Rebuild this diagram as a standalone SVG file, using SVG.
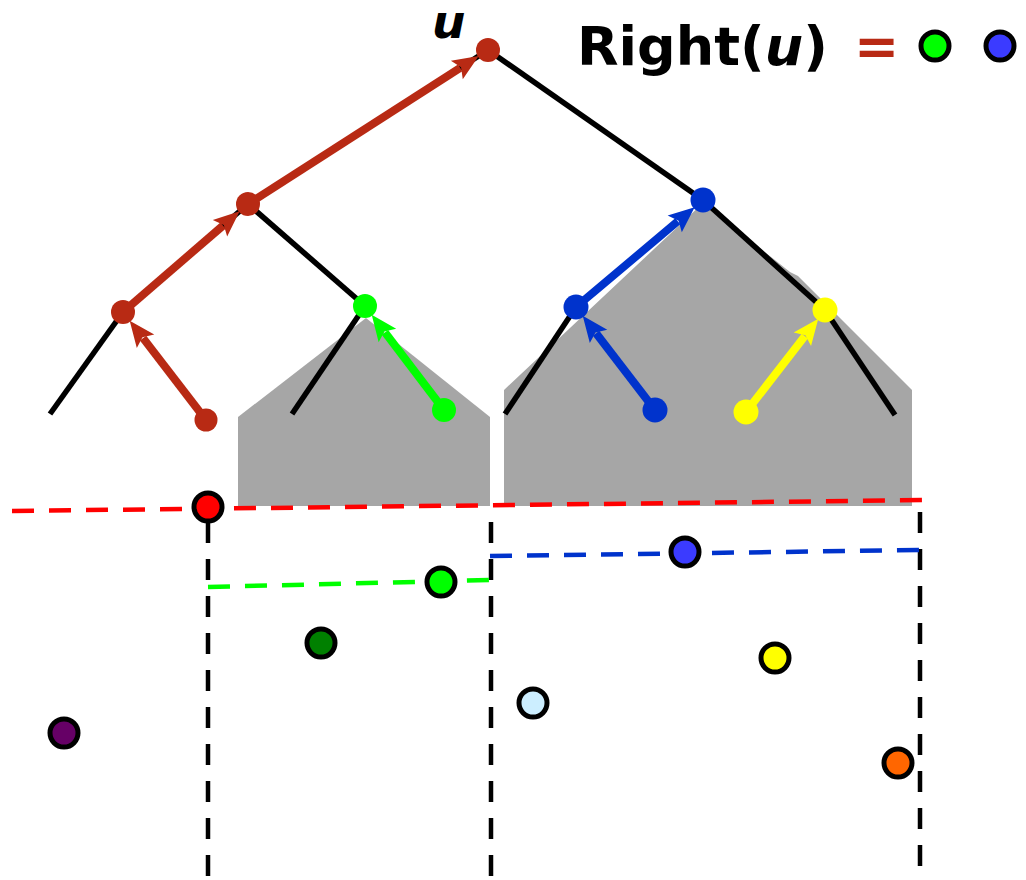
<svg xmlns="http://www.w3.org/2000/svg" width="1026" height="880" viewBox="0 0 1026 880">
<style>
.edge{stroke:#000;stroke-width:5.5;fill:none}
.arr{stroke-width:8;fill:none}
.dot{stroke:none}
.pt{stroke:#000;stroke-width:5}
.vd{stroke:#000;stroke-width:4.5;stroke-dasharray:21 16;fill:none}
.hd{stroke-width:4.5;stroke-dasharray:22 15;fill:none}
.t{font-family:"DejaVu Sans",sans-serif;font-weight:bold}
</style>
<defs>
<marker id="mR" markerUnits="userSpaceOnUse" markerWidth="30" markerHeight="30" refX="0" refY="0" orient="auto" overflow="visible"><path d="M-4,-11 L22,0 L-4,11 L1,0 z" fill="#b82a14"/></marker>
<marker id="mG" markerUnits="userSpaceOnUse" markerWidth="30" markerHeight="30" refX="0" refY="0" orient="auto" overflow="visible"><path d="M-4,-11 L22,0 L-4,11 L1,0 z" fill="#00ff00"/></marker>
<marker id="mB" markerUnits="userSpaceOnUse" markerWidth="30" markerHeight="30" refX="0" refY="0" orient="auto" overflow="visible"><path d="M-4,-11 L22,0 L-4,11 L1,0 z" fill="#0033cc"/></marker>
<marker id="mY" markerUnits="userSpaceOnUse" markerWidth="30" markerHeight="30" refX="0" refY="0" orient="auto" overflow="visible"><path d="M-4,-11 L22,0 L-4,11 L1,0 z" fill="#ffff00"/></marker>
</defs>
<rect width="1026" height="880" fill="#fff"/>
<g id="subtrees">
<polygon points="238,417 366,318 490,417 490,506 238,506" fill="#a6a6a6"/>
<polygon points="504,390 703,203 790,272 798,276 912,390 912,506 504,506" fill="#a6a6a6"/>
</g>
<g id="connectors">
<line class="edge" x1="488" y1="50" x2="703" y2="200"/>
<line class="edge" x1="488" y1="50" x2="248" y2="204"/>
<line class="edge" x1="248" y1="204" x2="123" y2="312"/>
<line class="edge" x1="248" y1="204" x2="365" y2="306"/>
<line class="edge" x1="123" y1="312" x2="50" y2="414"/>
<line class="edge" x1="365" y1="306" x2="292" y2="414"/>
<line class="edge" x1="576" y1="307" x2="505" y2="414"/>
<line class="edge" x1="703" y1="200" x2="825" y2="310"/>
<line class="edge" x1="825" y1="310" x2="895" y2="415"/>
<line class="arr" stroke="#b82a14" x1="123" y1="312" x2="223" y2="225.6" marker-end="url(#mR)"/>
<line class="arr" stroke="#b82a14" x1="248" y1="204" x2="460.2" y2="67.8" marker-end="url(#mR)"/>
<line class="arr" stroke="#b82a14" x1="206" y1="420" x2="143.1" y2="338.1" marker-end="url(#mR)"/>
<line class="arr" stroke="#00ff00" x1="444" y1="410" x2="385" y2="332.3" marker-end="url(#mG)"/>
<line class="arr" stroke="#0033cc" x1="655" y1="410" x2="596.1" y2="333.2" marker-end="url(#mB)"/>
<line class="arr" stroke="#0033cc" x1="576" y1="307" x2="677.8" y2="221.3" marker-end="url(#mB)"/>
<line class="arr" stroke="#ffff00" x1="746" y1="412" x2="804.8" y2="336.1" marker-end="url(#mY)"/>
<line class="hd" stroke="#ff0000" x1="12" y1="511" x2="930" y2="500"/>
<line class="vd" x1="208" y1="522" x2="208" y2="880"/>
<line class="vd" x1="491" y1="522" x2="491" y2="880"/>
<line class="vd" x1="920" y1="512" x2="920" y2="880"/>
<line class="hd" stroke="#00ff00" x1="208" y1="587" x2="491" y2="580"/>
<line class="hd" stroke="#0033cc" x1="490" y1="556" x2="921" y2="550"/>
</g>
<g id="n-root"><circle class="dot" cx="488" cy="50" r="12" fill="#b82a14"/></g>
<g id="n-a"><circle class="dot" cx="248" cy="204" r="12" fill="#b82a14"/></g>
<g id="n-b"><circle class="dot" cx="123" cy="312" r="12" fill="#b82a14"/></g>
<g id="n-redleaf"><circle class="dot" cx="206" cy="420" r="11.5" fill="#b82a14"/></g>
<g id="n-green"><circle class="dot" cx="365" cy="306" r="12" fill="#00ff00"/></g>
<g id="n-greenleaf"><circle class="dot" cx="444" cy="410" r="12" fill="#00ff00"/></g>
<g id="n-blue1"><circle class="dot" cx="703" cy="200" r="12.5" fill="#0033cc"/></g>
<g id="n-blue2"><circle class="dot" cx="576" cy="307" r="12.5" fill="#0033cc"/></g>
<g id="n-blueleaf"><circle class="dot" cx="655" cy="410" r="12.5" fill="#0033cc"/></g>
<g id="n-yellow"><circle class="dot" cx="825" cy="310" r="12.5" fill="#ffff00"/></g>
<g id="n-yellowleaf"><circle class="dot" cx="746" cy="412" r="12.5" fill="#ffff00"/></g>
<g id="p-red"><circle class="pt" cx="208" cy="507" r="14" fill="#ff0000"/></g>
<g id="p-green"><circle class="pt" cx="441" cy="582" r="14" fill="#00ff00"/></g>
<g id="p-blue"><circle class="pt" cx="685" cy="552" r="14" fill="#3b3bff"/></g>
<g id="p-darkgreen"><circle class="pt" cx="321" cy="643" r="14" fill="#008000"/></g>
<g id="p-purple"><circle class="pt" cx="64" cy="733" r="14" fill="#660066"/></g>
<g id="p-lightblue"><circle class="pt" cx="533" cy="703" r="14" fill="#cceeff"/></g>
<g id="p-yellow"><circle class="pt" cx="775" cy="658" r="14" fill="#ffff00"/></g>
<g id="p-orange"><circle class="pt" cx="898" cy="763" r="14" fill="#ff6600"/></g>
<g id="label-u"><text class="t" x="432" y="38" font-size="47" font-style="italic">u</text></g>
<g id="legend">
<text class="t" x="577" y="65" font-size="54">Right(<tspan font-style="italic">u</tspan>)</text>
<text class="t" x="854" y="65" font-size="54" fill="#b82a14">=</text>
<circle class="pt" cx="935" cy="46" r="14" fill="#00ff00"/>
<circle class="pt" cx="1000" cy="46" r="14" fill="#3b3bff"/>
</g>
</svg>
